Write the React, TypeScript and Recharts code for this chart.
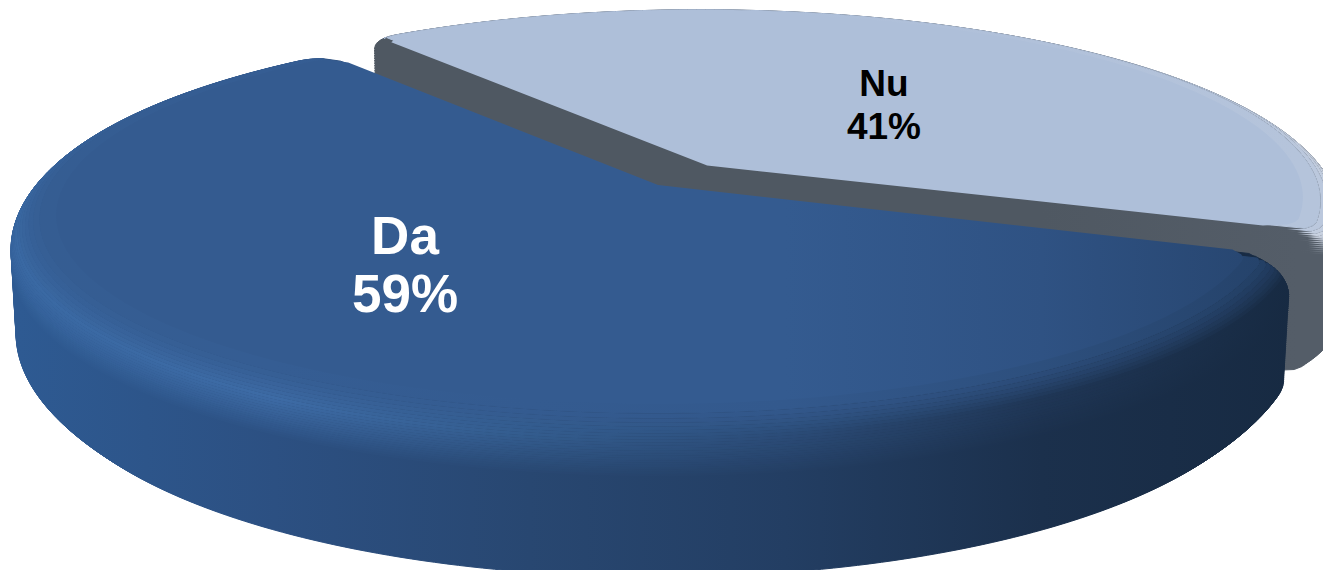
import { PieChart, Pie, Cell } from 'recharts'

const categories = ['Da', 'Nu']
const shares = [59, 41]
const percentLabels = ['59%', '41%']

// camera and disc geometry
const PERSPECTIVE = 3500
const TILT = (72 * Math.PI) / 180
const WIDTH = 1323
const HEIGHT = 570
const APEX_X = 658
const APEX_Y = 185
const START_ANGLE = 128
const DA_OUTER = 639
const NU_OUTER = 634
const NU_OFFSET = { x: 50, y: -64 }
const DEPTH = 148
const STEP = 2

const daFlat = ['#345b90', '#345b90', '#345b90', '#345b90', '#2f5283', '#26446d']
const daRidge = ['#3a69a3', '#3d6ba5', '#335c8e', '#2b4c78', '#1f3656', '#172a42']
const daWall = ['#2e5a92', '#2c5082', '#284771', '#233e63', '#1b304c', '#172a42']
const nuFlat = ['#aebfd9', '#aebfd9', '#aebfd9', '#aebfd9', '#aebfd9', '#aebfd9']
const nuRim = ['#aebfd9', '#aebfd9', '#aebfd9', '#b0c0d9', '#bcc8dc', '#ccd4e2']
const nuWall = ['#4f5862', '#4f5862', '#4f5862', '#4f5862', '#4f5862', '#545d68']

const sliceLooks = [
  { flat: daFlat, rim: daRidge, wall: daWall, bevel: 32, inset: 45 },
  { flat: nuFlat, rim: nuRim, wall: nuWall, bevel: 18, inset: 37 },
]

const hex = (c: string) => [1, 3, 5].map(i => parseInt(c.slice(i, i + 2), 16))
const mix = (a: string[], b: string[], t: number) =>
  a.map((c, i) => {
    const x = hex(c)
    const y = hex(b[i])
    return `rgb(${x.map((v, k) => Math.round(v + (y[k] - v) * t)).join(',')})`
  })

function project(x: number, y: number, depth: number) {
  const s = Math.sin(TILT)
  const c = Math.cos(TILT)
  const yr = y * c + depth * s
  const zr = y * s - depth * c
  const w = PERSPECTIVE / (PERSPECTIVE - zr)
  return [APEX_X + x * w, APEX_Y + yr * w].join(',')
}

function Fill({ id, stops, points, seam }: { id: string; stops: string[]; points: string[]; seam?: boolean }) {
  return (
    <>
      <linearGradient id={id} gradientUnits="userSpaceOnUse" x1={APEX_X - DA_OUTER} y1="0" x2={APEX_X + DA_OUTER} y2="0">
        {stops.map((c, i) => (
          <stop key={i} offset={i / (stops.length - 1)} stopColor={c} />
        ))}
      </linearGradient>
      <polygon points={points.join(' ')} fill={`url(#${id})`} stroke={seam ? `url(#${id})` : 'none'} strokeWidth={seam ? 1 : 0} />
    </>
  )
}

// draws one sector as a stack of tilted outlines, deepest first
function StackedSlice(props: any) {
  const { cx, cy, startAngle, endAngle, outerRadius, name, payload } = props
  const index = categories.indexOf(name ?? payload?.name)
  const look = sliceLooks[index]
  const a0 = Math.min(startAngle, endAngle)
  const a1 = Math.max(startAngle, endAngle)
  const ox = cx - APEX_X
  const oy = cy - APEX_Y

  const arc = (radius: number, d: number, pad: number) => {
    const pts: string[] = []
    for (let a = a0 + pad; a <= a1 - pad + 0.001; a += 1) {
      const edge = Math.min(a - a0, a1 - a) / 3.2
      const corner = edge < 1 ? (1 - Math.sqrt(1 - (1 - edge) * (1 - edge))) * 30 : 0
      const r = radius - corner
      const rad = (a * Math.PI) / 180
      pts.push(project(ox + r * Math.cos(rad), oy - r * Math.sin(rad), d))
    }
    return pts
  }

  const layers = []
  for (let d = DEPTH; d >= 0; d -= STEP) {
    const t = Math.min(d / look.bevel, 1)
    const round = Math.sqrt(1 - (1 - t) * (1 - t))
    const foot = d > DEPTH - 30 ? (1 - Math.cos(((d - (DEPTH - 30)) / 30) * Math.PI / 2)) * 22 : 0
    const radius = outerRadius - look.inset * (1 - round) - foot
    const apex = project(ox, oy, d)
    const inBevel = d < look.bevel * 1.5
    const stops = d < look.bevel * 0.5
      ? mix(look.flat, look.rim, d / (look.bevel * 0.5))
      : mix(look.rim, look.wall, Math.min((d - look.bevel * 0.5) / look.bevel, 1))
    layers.push(
      <g key={d}>
        {d === 0
          ? <Fill id={`face-${index}`} stops={look.flat} points={[apex, ...arc(radius, d, 0)]} />
          : <Fill id={`wall-${index}-${d}`} stops={mix(look.wall, look.wall, 0)} points={[apex, ...arc(radius, d, 0)]} seam />}
        {inBevel && d > 0 && (
          <Fill id={`rim-${index}-${d}`} stops={stops} points={[...arc(radius, d, 1), ...arc(radius - 70, d, 1).reverse()]} seam />
        )}
      </g>,
    )
  }
  return <g>{layers}</g>
}

const sliceData = categories.map((name, i) => ({ name, value: shares[i] }))

const renderOnly = (only: string) => (props: any) =>
  (props.name ?? props.payload?.name) === only ? <StackedSlice {...props} /> : <g />

const pieProps = {
  data: sliceData,
  dataKey: 'value',
  nameKey: 'name',
  startAngle: START_ANGLE,
  endAngle: START_ANGLE + 360,
  stroke: 'none',
  isAnimationActive: false,
  rootTabIndex: -1,
}

export default function App() {
  const nuShape = renderOnly('Nu')
  const daShape = renderOnly('Da')
  return (
    <div style={{ position: 'absolute', left: 0, top: 0, width: WIDTH, height: HEIGHT, overflow: 'hidden', background: '#fff', fontFamily: '"Liberation Sans", Arial, sans-serif' }}>
      <PieChart width={WIDTH} height={HEIGHT} margin={{ top: 0, right: 0, bottom: 0, left: 0 }}>
        <Pie {...pieProps} outerRadius={NU_OUTER} cx={APEX_X + NU_OFFSET.x} cy={APEX_Y + NU_OFFSET.y} shape={nuShape} inactiveShape={nuShape} activeShape={nuShape}>
          {sliceData.map(d => <Cell key={d.name} />)}
        </Pie>
        <Pie {...pieProps} outerRadius={DA_OUTER} cx={APEX_X} cy={APEX_Y} shape={daShape} inactiveShape={daShape} activeShape={daShape}>
          {sliceData.map(d => <Cell key={d.name} />)}
        </Pie>
      </PieChart>
      <div style={{ position: 'absolute', left: 305, top: 207, width: 200, textAlign: 'center', color: '#fff', fontWeight: 700, fontSize: 53, lineHeight: '58px' }}>
        {categories[0]}<br />{percentLabels[0]}
      </div>
      <div style={{ position: 'absolute', left: 784, top: 62, width: 200, textAlign: 'center', color: '#000', fontWeight: 700, fontSize: 37, lineHeight: '43px' }}>
        {categories[1]}<br />{percentLabels[1]}
      </div>
    </div>
  )
}
